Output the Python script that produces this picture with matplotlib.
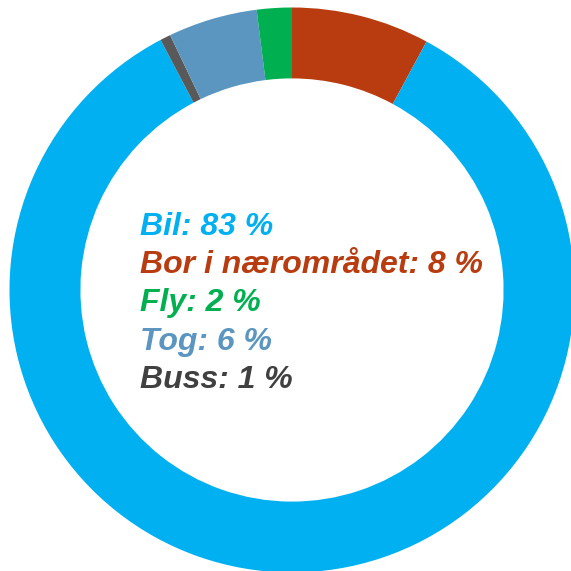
import matplotlib

matplotlib.use("Agg")
import matplotlib.pyplot as plt

plt.rcParams["font.family"] = ["Liberation Sans", "DejaVu Sans"]

labels = ["Bor i nærområdet", "Bil", "Buss", "Tog", "Fly"]
shares = [7.9, 84.4, 0.6, 5.1, 2.0]
label_pct = [8, 83, 1, 6, 2]
colors = ["#B83C10", "#00B0F0", "#595959", "#5B96C0", "#00B050"]

# legend text inside the ring, in this order
legend_order = ["Bil", "Bor i nærområdet", "Fly", "Tog", "Buss"]
text_colors = {"Bil": "#00B0F0", "Bor i nærområdet": "#B83C10", "Fly": "#00B050",
               "Tog": "#5B96C0", "Buss": "#404040"}

W = H = 571
fig = plt.figure(figsize=(W / 100, H / 100), dpi=100)
cx, cy, r = 292, 290, 282.5
ax = fig.add_axes([(cx - r) / W, (H - cy - r) / H, 2 * r / W, 2 * r / H])
ax.pie(shares, colors=colors, startangle=90, counterclock=False, radius=1,
       wedgeprops=dict(width=0.251, linewidth=0))
ax.set_xlim(-1, 1)
ax.set_ylim(-1, 1)
ax.set_aspect("equal")
ax.axis("off")

pct_of = dict(zip(labels, label_pct))
for i, name in enumerate(legend_order):
    y = 235 + i * 38.2
    fig.text(140 / W, 1 - y / H, f"{name}: {pct_of[name]} %", color=text_colors[name],
             fontsize=23, fontweight="bold", fontstyle="italic", va="baseline", ha="left")

fig.savefig("out.png", dpi=100)
